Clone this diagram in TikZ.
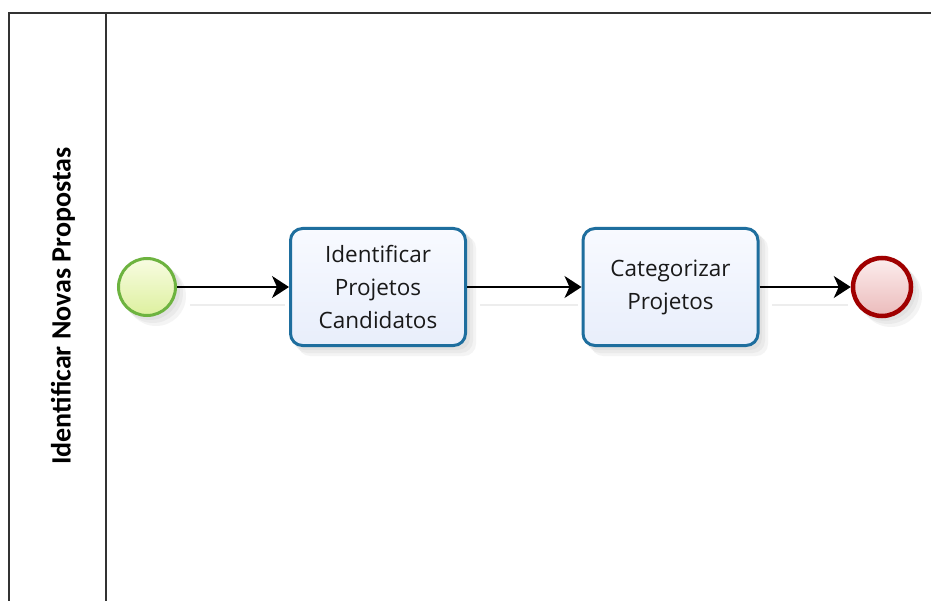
\documentclass[tikz,border=0pt]{standalone}
\usepackage{fontspec}
\setmainfont{Open Sans}
\newfontfamily\lanefont{Carlito}
\usetikzlibrary{arrows.meta}
\definecolor{poolline}{HTML}{333333}
\definecolor{taskborder}{HTML}{1E6E9E}
\definecolor{tasktop}{HTML}{F8FAFF}
\definecolor{taskbottom}{HTML}{E8EEFB}
\definecolor{startborder}{HTML}{6DB33F}
\definecolor{starttop}{HTML}{F8FCE2}
\definecolor{startbottom}{HTML}{DDF09E}
\definecolor{endborder}{HTML}{A00000}
\definecolor{endtop}{HTML}{FCEDED}
\definecolor{endbottom}{HTML}{EBBBBB}
\definecolor{shadowgray}{HTML}{9A9A9A}
\tikzset{
  poolstroke/.style={draw=poolline, line width=2pt},
  softshadow/.style={fill=shadowgray, draw=none, opacity=0.10},
  task/.style={rectangle, rounded corners=12pt, draw=taskborder, line width=3pt,
    top color=tasktop, bottom color=taskbottom, minimum width=175pt, minimum height=117pt,
    align=center, font=\fontsize{22.5}{33}\selectfont, text=black!90},
  startev/.style={circle, draw=startborder, line width=3pt,
    top color=starttop, bottom color=startbottom, minimum size=57pt, inner sep=0pt},
  endev/.style={circle, draw=endborder, line width=4.5pt,
    top color=endtop, bottom color=endbottom, minimum size=58pt, inner sep=0pt},
  flow/.style={draw=black, line width=1.8pt, -{Stealth[length=17pt, width=22pt, inset=5pt]}},
  flowshadow/.style={draw=black!7, line width=1.5pt},
}
\begin{document}
\begin{tikzpicture}[x=1pt, y=-1pt]
\useasboundingbox (0,0) rectangle (931,601);
\clip (0,0) rectangle (931,601);
\fill[white] (0,0) rectangle (931,601);

% pool and lane header
\draw[poolstroke] (9,620) -- (9,13.5) -- (950,13.5);
\draw[poolstroke] (106,13.5) -- (106,620);
\node[rotate=90, font=\lanefont\bfseries\fontsize{28}{32}\selectfont, text=black] (lane) at (63,306) {Identificar Novas Propostas};

% soft shadows under shapes
\foreach \d in {3,6,9} {
  \fill[softshadow] (147+\d,287+\d) circle (30);
  \fill[softshadow, rounded corners=12pt] (289+\d,227+\d) rectangle (467+\d,347+\d);
  \fill[softshadow, rounded corners=12pt] (582+\d,227+\d) rectangle (759+\d,347+\d);
  \fill[softshadow] (882+\d,287+\d) circle (31);
}

% flow shadows
\draw[flowshadow] (190,305) -- (285,305);
\draw[flowshadow] (480,305) -- (578,305);
\draw[flowshadow] (772,305) -- (848,305);

% elements
\node[startev] (start) at (147,287) {};
\node[task] (t1) at (378,287) {Identificar\\Projetos\\Candidatos};
\node[task] (t2) at (670.5,287) {Categorizar\\Projetos};
\node[endev] (end) at (882,287) {};

% sequence flows
\draw[flow] (start) -- (t1);
\draw[flow] (t1) -- (t2);
\draw[flow] (t2) -- (end);
\end{tikzpicture}
\end{document}
